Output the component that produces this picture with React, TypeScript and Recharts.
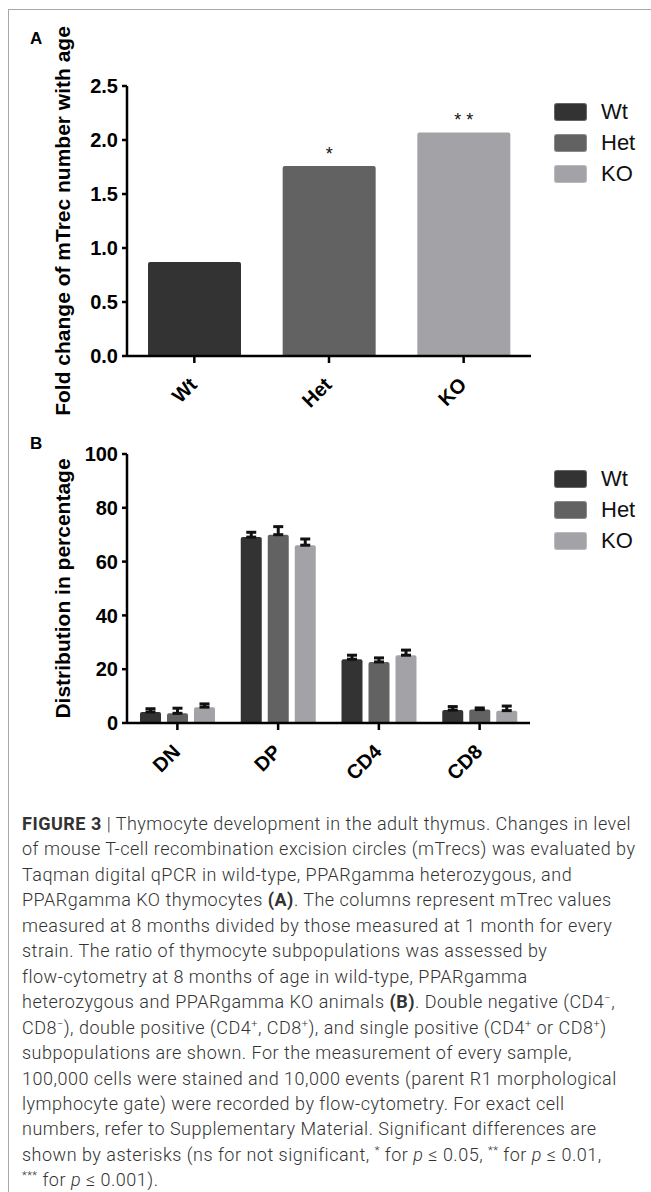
import { BarChart, Bar, XAxis, YAxis, Cell, LabelList, ErrorBar, Legend } from "recharts";

// panel A: mTrec fold change
const groups = ["Wt", "Het", "KO"];
const groupColors = ["#333333", "#626262", "#a3a2a6"];
const foldChange = [0.87, 1.76, 2.07];
const foldSig = ["", "*", "* *"];
const foldTicks = [0, 0.5, 1, 1.5, 2, 2.5];

// panel B: thymocyte subpopulations
const subsets = ["DN", "DP", "CD4", "CD8"];
const wtPct = [4.1, 69.1, 23.7, 4.8];
const hetPct = [3.6, 70.0, 22.7, 5.0];
const koPct = [5.9, 66.1, 25.2, 4.6];
const wtSem = [1.2, 1.8, 1.5, 1.3];
const hetSem = [1.9, 3.0, 1.5, 0.6];
const koSem = [1.2, 2.3, 1.9, 1.7];
const pctTicks = [0, 20, 40, 60, 80, 100];

const foldData = groups.map((g, i) => ({ group: g, value: foldChange[i], sig: foldSig[i] }));
const pctData = subsets.map((s, i) => ({
  subset: s,
  Wt: wtPct[i],
  Het: hetPct[i],
  KO: koPct[i],
  WtErr: [0, wtSem[i]],
  HetErr: [0, hetSem[i]],
  KOErr: [0, koSem[i]],
}));

const FONT = "'Liberation Sans', Arial, sans-serif";
const axisStyle = { stroke: "#000", strokeWidth: 2.5 };
const tickFont = { fontSize: 20, fontWeight: 700, fill: "#000", fontFamily: FONT };

const SlantTick = (props: any) => {
  const { x, y, payload } = props;
  return (
    <text
      x={0}
      y={0}
      transform={`translate(${x + 4},${y + 21}) rotate(-45)`}
      textAnchor="end"
      fontSize={20}
      fontWeight={700}
      fontFamily={FONT}
      fill="#000"
    >
      {payload.value}
    </text>
  );
};

const GroupLegend = () => (
  <div style={{ fontFamily: FONT }}>
    {groups.map((g, i) => (
      <div key={g} style={{ display: "flex", alignItems: "center", height: 31 }}>
        <div
          style={{
            width: 33,
            height: 18,
            borderRadius: 3,
            background: groupColors[i],
            boxShadow: "inset 0 0 0 1px rgba(255,255,255,0.25)",
          }}
        />
        <span style={{ marginLeft: 14, fontSize: 22, color: "#111", lineHeight: "22px" }}>{g}</span>
      </div>
    ))}
  </div>
);

const panelLetter = (letter: string, top: number) => (
  <div
    style={{
      position: "absolute",
      left: 30,
      top,
      fontFamily: FONT,
      fontWeight: 700,
      fontSize: 17,
      lineHeight: "17px",
    }}
  >
    {letter}
  </div>
);

const sup = (s: string) => <sup style={{ fontSize: 11, lineHeight: 0 }}>{s}</sup>;
const it = (s: string) => <i>{s}</i>;

const captionLines: any[] = [
  <>
    <b style={{ fontWeight: 700 }}>FIGURE 3</b> | Thymocyte development in the adult thymus. Changes in level
  </>,
  <>of mouse T-cell recombination excision circles (mTrecs) was evaluated by</>,
  <>Taqman digital qPCR in wild-type, PPARgamma heterozygous, and</>,
  <>
    PPARgamma KO thymocytes <b style={{ fontWeight: 700 }}>(A)</b>. The columns represent mTrec values
  </>,
  <>measured at 8 months divided by those measured at 1 month for every</>,
  <>strain. The ratio of thymocyte subpopulations was assessed by</>,
  <>flow-cytometry at 8 months of age in wild-type, PPARgamma</>,
  <>
    heterozygous and PPARgamma KO animals <b style={{ fontWeight: 700 }}>(B)</b>. Double negative (CD4{sup("−")},
  </>,
  <>
    CD8{sup("−")}), double positive (CD4{sup("+")}, CD8{sup("+")}), and single positive (CD4{sup("+")} or CD8{sup("+")})
  </>,
  <>subpopulations are shown. For the measurement of every sample,</>,
  <>100,000 cells were stained and 10,000 events (parent R1 morphological</>,
  <>lymphocyte gate) were recorded by flow-cytometry. For exact cell</>,
  <>numbers, refer to Supplementary Material. Significant differences are</>,
  <>
    shown by asterisks (ns for not significant, {sup("*")} for {it("p")} ≤ 0.05, {sup("**")} for {it("p")} ≤ 0.01,
  </>,
  <>
    {sup("***")} for {it("p")} ≤ 0.001).
  </>,
];

export default function App() {
  return (
    <div
      style={{
        position: "absolute",
        left: 0,
        top: 0,
        width: 651,
        height: 1192,
        overflow: "hidden",
        background: "#fff",
      }}
    >
      <div
        style={{
          position: "absolute",
          left: 8,
          top: 9,
          width: 700,
          height: 1300,
          borderTop: "1px solid #a8a8a8",
          borderLeft: "1px solid #a8a8a8",
        }}
      />

      {panelLetter("A", 30)}
      <div style={{ position: "absolute", left: 0, top: 0 }}>
        <BarChart width={651} height={420} data={foldData} margin={{ top: 86, right: 120, bottom: 34, left: 57 }}>
          <XAxis
            dataKey="group"
            height={30}
            axisLine={axisStyle}
            tickLine={axisStyle}
            tickSize={7}
            tickMargin={2}
            tick={<SlantTick />}
            interval={0}
          />
          <YAxis
            width={70}
            domain={[0, 2.5]}
            ticks={foldTicks}
            tickFormatter={(v: number) => v.toFixed(1)}
            axisLine={axisStyle}
            tickLine={axisStyle}
            tickSize={5}
            tickMargin={4}
            tick={tickFont}
            label={{
              value: "Fold change of mTrec number with age",
              angle: -90,
              position: "insideLeft",
              offset: 6,
              style: { textAnchor: "middle", fontSize: 21, fontWeight: 700, fill: "#000", fontFamily: FONT },
            }}
          />
          <Legend
            layout="vertical"
            align="center"
            verticalAlign="middle"
            content={<GroupLegend />}
            wrapperStyle={{ left: 554, top: 96, width: 100 }}
          />
          <Bar dataKey="value" barSize={93} radius={[2, 2, 0, 0]} isAnimationActive={false}>
            {foldData.map((d, i) => (
              <Cell key={d.group} fill={groupColors[i]} />
            ))}
            <LabelList
              dataKey="sig"
              position="top"
              offset={6}
              style={{ fontSize: 18, fill: "#111", fontFamily: FONT }}
            />
          </Bar>
        </BarChart>
      </div>

      {panelLetter("B", 435)}
      <div style={{ position: "absolute", left: 0, top: 420 }}>
        <BarChart
          width={651}
          height={380}
          data={pctData}
          margin={{ top: 34, right: 121, bottom: 47, left: 57 }}
          barSize={21}
          barGap={6}
        >
          <XAxis
            dataKey="subset"
            height={30}
            axisLine={axisStyle}
            tickLine={axisStyle}
            tickSize={7}
            tickMargin={2}
            tick={<SlantTick />}
            interval={0}
          />
          <YAxis
            width={70}
            domain={[0, 100]}
            ticks={pctTicks}
            axisLine={axisStyle}
            tickLine={axisStyle}
            tickSize={5}
            tickMargin={4}
            tick={tickFont}
            label={{
              value: "Distribution in percentage",
              angle: -90,
              position: "insideLeft",
              offset: 6,
              style: { textAnchor: "middle", fontSize: 21, fontWeight: 700, fill: "#000", fontFamily: FONT },
            }}
          />
          <Legend
            layout="vertical"
            align="center"
            verticalAlign="middle"
            content={<GroupLegend />}
            wrapperStyle={{ left: 554, top: 43, width: 100 }}
          />
          {groups.map((g, i) => (
            <Bar key={g} dataKey={g} fill={groupColors[i]} radius={[2, 2, 0, 0]} isAnimationActive={false}>
              <ErrorBar dataKey={`${g}Err`} width={5} stroke="#111" strokeWidth={3} direction="y" />
            </Bar>
          ))}
        </BarChart>
      </div>

      <div
        style={{
          position: "absolute",
          left: 22,
          top: 811,
          fontFamily: "Roboto, 'Liberation Sans', sans-serif",
          fontWeight: 300,
          fontSize: 18,
          letterSpacing: 0.5,
          lineHeight: "25.45px",
          color: "#333",
          whiteSpace: "nowrap",
        }}
      >
        {captionLines.map((line, i) => (
          <div key={i}>{line}</div>
        ))}
      </div>
    </div>
  );
}
